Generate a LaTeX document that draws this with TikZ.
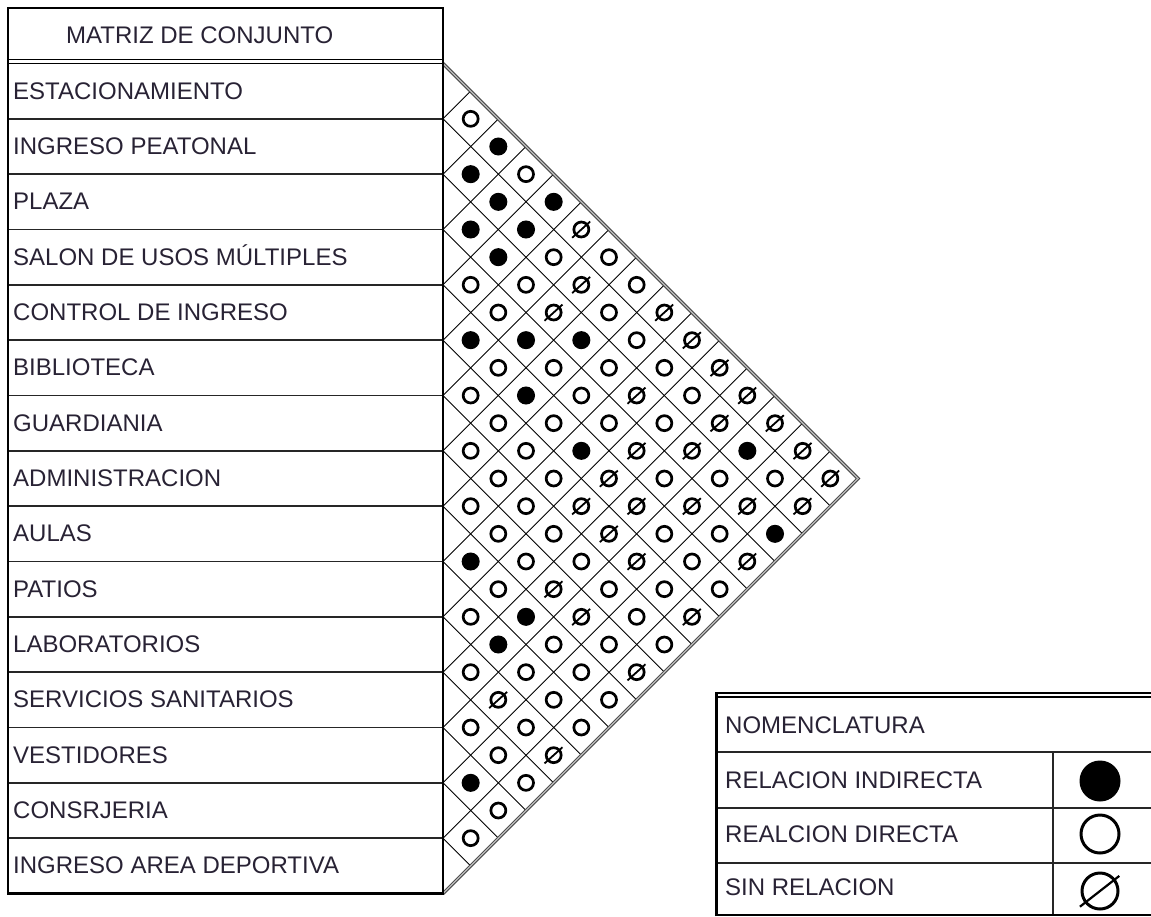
\documentclass[tikz,border=0pt]{standalone}
\usepackage{fontspec}
\setmainfont{Liberation Sans}
\definecolor{txt}{RGB}{40,34,52}
\begin{document}
\begin{tikzpicture}[x=1pt,y=-1pt,
  rowline/.style={line width=1.5pt, draw=black!85},
  gridline/.style={line width=0.9pt, draw=black},
  lbl/.style={anchor=base west, inner sep=0pt, font=\fontsize{24}{28}\selectfont, text=txt},
  symI/.style={circle, fill=black, draw=black, line width=1pt, minimum size=17pt, inner sep=0pt},
  symD/.style={circle, draw=black, line width=2.7pt, minimum size=15pt, inner sep=0pt},
  slashline/.style={line width=1.8pt, shorten <=-3.5pt, shorten >=-3pt},
  bigI/.style={circle, fill=black, draw=black, line width=1pt, minimum size=40pt, inner sep=0pt},
  bigD/.style={circle, draw=black, line width=3pt, minimum size=38pt, inner sep=0pt},
  bigslash/.style={line width=2.2pt, shorten <=-6pt, shorten >=-5pt},
]
\useasboundingbox (0,0) rectangle (1151,916);
\clip (0,0) rectangle (1151,916);
\def\h{55.333}

% ---------- triangle grid ----------
\coordinate (tl) at (443,63.5);
\coordinate (apex) at (858,478.5);
\coordinate (bl) at (443,893.5);
\foreach \n in {1,...,14} {
  \coordinate (e\n) at (443,{63.5+\h*\n});
  \coordinate (dn\n) at ({443+\h*(15-\n)/2},{63.5+\h*\n+\h*(15-\n)/2});
  \coordinate (up\n) at ({443+\h*\n/2},{63.5+\h*\n/2});
  \draw[gridline] (e\n) -- (dn\n);
  \draw[gridline] (e\n) -- (up\n);
}
\draw[line width=0.8pt, draw=black!80, double=black!30, double distance=1.6pt] (tl) -- (apex) -- (bl);

% ---------- symbols (k = level, d = column) ----------
\foreach \k/\d in {3/2,4/1,5/2,5/4,6/1,6/3,7/2,10/1,10/3,10/5,12/3,14/5,14/11,17/12,18/1,20/3,21/2,26/1} {
  \node[symI] (s-\k-\d) at ({443+\d*\h/2},{63.5+\k*\h/2}) {};
}
\foreach \k/\d in {2/1,4/3,7/4,7/6,8/1,8/3,8/7,9/2,9/6,10/7,11/2,11/4,11/6,11/8,12/1,12/5,12/9,13/2,13/4,13/6,13/8,14/1,14/3,15/2,15/4,15/8,15/10,15/12,16/1,16/3,17/2,17/4,17/8,17/10,18/3,18/5,18/9,19/2,19/6,19/8,19/10,20/1,20/7,21/4,21/6,21/8,22/1,22/3,22/5,23/4,23/6,24/1,24/3,24/5,25/2,26/3,27/2,28/1} {
  \node[symD] (s-\k-\d) at ({443+\d*\h/2},{63.5+\k*\h/2}) {};
}
\foreach \k/\d in {6/5,8/5,9/4,9/8,10/9,11/10,12/7,12/11,13/10,13/12,14/7,14/9,14/13,15/6,15/14,16/5,16/7,16/9,16/11,16/13,17/6,18/7,18/11,19/4,20/5,20/9,22/7,23/2,25/4} {
  \node[symD] (s-\k-\d) at ({443+\d*\h/2},{63.5+\k*\h/2}) {};
  \draw[slashline] (s-\k-\d.222) -- (s-\k-\d.42);
}

% ---------- table ----------
\foreach \n in {1,...,14} {
  \draw[rowline] (8,{63.5+\h*\n}) -- (e\n);
}
\draw[line width=1.2pt] (8,59.5) -- (443,59.5);
\draw[line width=1.2pt] (8,63.5) -- (tl);
\draw[line width=2.6pt] (8,8) rectangle (bl);

\node[lbl] (hdr) at (66,43) {MATRIZ DE CONJUNTO};
\foreach \i/\t in {0/ESTACIONAMIENTO,1/INGRESO PEATONAL,2/PLAZA,3/SALON DE USOS MÚLTIPLES,4/CONTROL DE INGRESO,5/BIBLIOTECA,6/GUARDIANIA,7/ADMINISTRACION,8/AULAS,9/PATIOS,10/LABORATORIOS,11/SERVICIOS SANITARIOS,12/VESTIDORES,13/CONSRJERIA,14/INGRESO AREA DEPORTIVA} {
  \node[lbl] (r\i) at (13,{63.5+\h*(\i+0.5)+8}) {\t};
}

% ---------- legend ----------
\draw[rowline] (716,752) -- (1160,752);
\draw[rowline] (716,808) -- (1160,808);
\draw[rowline] (716,863) -- (1160,863);
\draw[rowline] (1053,752) -- (1053,916);
\draw[line width=2pt] (716,915) -- (1160,915);
\draw[line width=1.3pt] (716,693) -- (1160,693);
\draw[line width=1.3pt] (716,697) -- (1160,697);
\draw[line width=3pt] (716,916) -- (716,692);

\node[lbl] (nom) at (725,733) {NOMENCLATURA};
\node[lbl] (lind) at (725,788) {RELACION INDIRECTA};
\node[lbl] (ldir) at (725,842) {REALCION DIRECTA};
\node[lbl] (lsin) at (725,895) {SIN RELACION};

\node[bigI] (kI) at (1100,781) {};
\node[bigD] (kD) at (1100,834) {};
\node[bigD, minimum size=36pt] (kN) at (1100,891) {};
\draw[bigslash] (kN.218) -- (kN.38);
\end{tikzpicture}
\end{document}
